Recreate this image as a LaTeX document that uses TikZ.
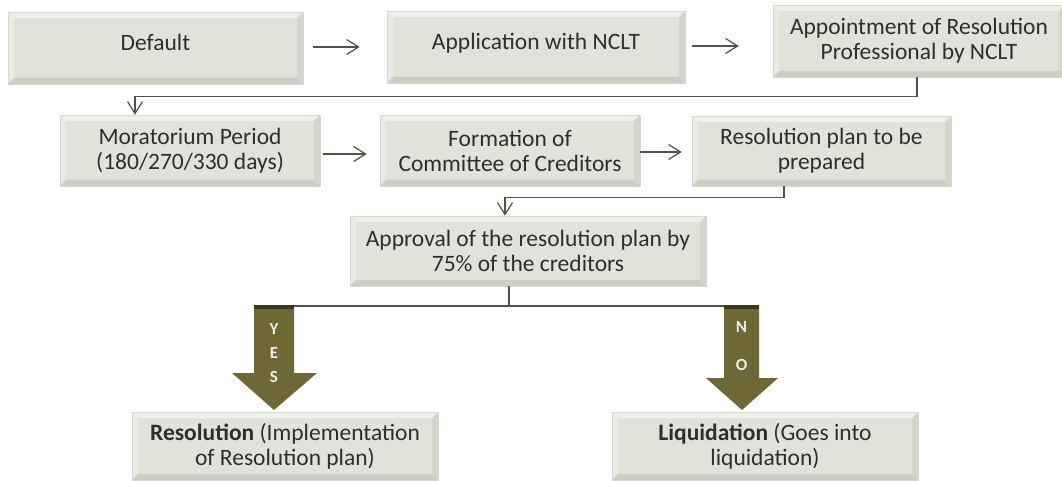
\documentclass[tikz,border=0pt]{standalone}
\usepackage{fontspec}
\setmainfont{Carlito}
\usetikzlibrary{arrows.meta,calc}
\definecolor{face}{HTML}{E1E3DA}
\definecolor{bevtop}{HTML}{EEF0EA}
\definecolor{bevleft}{HTML}{E9EBE4}
\definecolor{bevbot}{HTML}{CBCFC3}
\definecolor{bevright}{HTML}{D3D6CB}
\definecolor{edge}{HTML}{D6D9CF}
\definecolor{txt}{HTML}{2E2E2E}
\definecolor{lineclr}{HTML}{4D5546}
\definecolor{olivefill}{RGB}{110,104,52}
\definecolor{olivedark}{RGB}{58,57,32}
\definecolor{ynclr}{HTML}{EDEDE4}
\tikzset{
  box/.style={rectangle, fill=face, draw=edge, line width=0.6pt, inner sep=0pt,
    align=center, text=txt, font=\fontsize{23.5}{25}\selectfont,
    path picture={
      \fill[bevtop] (path picture bounding box.north west) -- (path picture bounding box.north east)
        -- ([xshift=-6pt,yshift=-6pt]path picture bounding box.north east)
        -- ([xshift=6pt,yshift=-6pt]path picture bounding box.north west) -- cycle;
      \fill[bevleft] (path picture bounding box.north west) -- (path picture bounding box.south west)
        -- ([xshift=6pt,yshift=6pt]path picture bounding box.south west)
        -- ([xshift=6pt,yshift=-6pt]path picture bounding box.north west) -- cycle;
      \fill[bevbot] (path picture bounding box.south west) -- (path picture bounding box.south east)
        -- ([xshift=-6pt,yshift=6pt]path picture bounding box.south east)
        -- ([xshift=6pt,yshift=6pt]path picture bounding box.south west) -- cycle;
      \fill[bevright] (path picture bounding box.north east) -- (path picture bounding box.south east)
        -- ([xshift=-6pt,yshift=6pt]path picture bounding box.south east)
        -- ([xshift=-6pt,yshift=-6pt]path picture bounding box.north east) -- cycle;
    }},
  oneline/.style={text height=17pt, text depth=11pt},
  conn/.style={draw=lineclr, line width=1.2pt},
  tip/.style={-{Straight Barb[length=12pt,width=15pt]}},
  bigarrow/.style={fill=olivefill},
  yn/.style={text=ynclr, font=\fontsize{17}{17}\selectfont\bfseries, inner sep=0pt}
}
\begin{document}
\begin{tikzpicture}[x=1pt,y=-1pt]
\useasboundingbox (0,0) rectangle (1062,481);
% row 1
\node[box, oneline, minimum width=295pt, minimum height=72pt] (def) at (155.5,48) {Default};
\node[box, oneline, minimum width=298pt, minimum height=72pt] (app) at (536,47) {Application with NCLT};
\node[box, minimum width=292pt, minimum height=72pt] (apt) at (919,41) {Appointment of Resolution\\Professional by NCLT};
% row 2
\node[box, minimum width=260pt, minimum height=71pt] (mor) at (190,150.5) {Moratorium Period\\(180/270/330 days)};
\node[box, minimum width=260pt, minimum height=71pt] (frm) at (510,150.5) {Formation of\\Committee of Creditors};
\node[box, minimum width=259pt, minimum height=70pt] (rpl) at (821.5,151) {Resolution plan to be\\prepared};
% row 3
\node[box, minimum width=356pt, minimum height=70pt] (apr) at (528,251) {Approval of the resolution plan by\\75\% of the creditors};
% row 4
\node[box, minimum width=306pt, minimum height=68pt] (res) at (285,446) {\textbf{Resolution} (Implementation\\of Resolution plan)};
\node[box, minimum width=306pt, minimum height=68pt] (liq) at (765,446) {\textbf{Liquidation} (Goes into\\liquidation)};
% connectors
\draw[conn, tip] ($(def.east)+(10,-1)$) -- ($(app.west |- def.east)+(-27,-1)$);
\draw[conn, tip] ($(app.east)+(7,-1)$) -- ($(apt.west |- app.east)+(-34,-1)$);
\draw[conn, tip] ([xshift=-2pt]apt.south) -- ++(0,19) -| ([xshift=-55pt]mor.north);
\draw[conn, tip] ($(mor.east)+(3,3.5)$) -- ($(frm.west |- mor.east)+(-13,3.5)$);
\draw[conn, tip] ($(frm.east)+(0,1.5)$) -- ($(rpl.west |- frm.east)+(-10,1.5)$);
\draw[conn, tip] ([xshift=-37.5pt]rpl.south) -- ++(0,11) -| ([xshift=-23pt]apr.north);
\coordinate (yl) at (254,306);
\coordinate (nr) at (759,306);
\draw[conn] ([xshift=-19pt]apr.south) -- ([xshift=-19pt]apr.south |- yl);
\draw[conn] (yl) -- (nr);
% YES arrow
\fill[bigarrow] (254,306) -- (294,306) -- (294,373) -- (317,373) -- (274,410) -- (232,373) -- (254,373) -- cycle;
\fill[olivedark] (254,305) rectangle (294,309);
\node[yn] (y1) at (274,329) {Y};
\node[yn] (y2) at (274,353) {E};
\node[yn] (y3) at (274,377) {S};
% NO arrow
\fill[bigarrow] (724,306) -- (759,306) -- (759,378) -- (778,378) -- (742,410) -- (706,378) -- (724,378) -- cycle;
\fill[olivedark] (724,305) rectangle (759,309);
\node[yn] (n1) at (741.5,327) {N};
\node[yn] (n2) at (741.5,365) {O};
\end{tikzpicture}
\end{document}
